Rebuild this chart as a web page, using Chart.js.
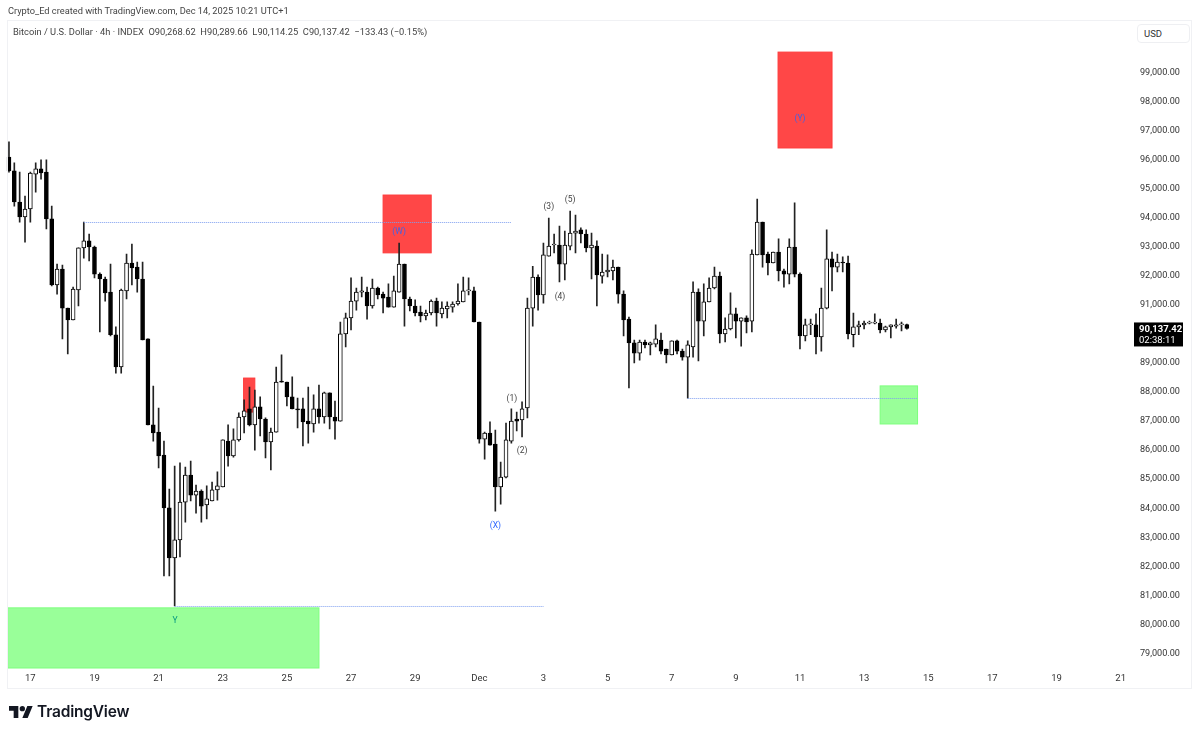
<!DOCTYPE html>
<html>
<head>
<meta charset="utf-8">
<title>BTCUSD 4h</title>
<script src="https://cdn.jsdelivr.net/npm/chart.js@4/dist/chart.umd.min.js"></script>
<style>
  html, body { margin: 0; padding: 0; background: #fff; overflow: hidden; }
  body { width: 1200px; height: 735px; position: relative; font-family: Roboto, sans-serif; color: #333; }
  #grafik { position: absolute; left: 0; top: 0; }
  #cerceve { position: absolute; left: 7px; top: 20px; width: 1185px; height: 669px; border: 1px solid #f0f1f4; box-sizing: border-box; pointer-events: none; }
  #baslik { position: absolute; left: 8px; top: 4px; font-size: 9.25px; line-height: 13px; color: #444; white-space: nowrap; }
  #lejant { position: absolute; left: 13px; top: 25px; font-size: 9.3px; line-height: 13px; color: #444; white-space: pre; }
  #usd { position: absolute; left: 1137px; top: 24px; width: 53px; height: 19px; border: 1px solid #eeeff2; border-radius: 4px; box-sizing: border-box; font-size: 9.5px; line-height: 18px; padding-left: 6px; color: #333; background: #fff; }
  #logo { position: absolute; left: 9px; top: 703px; display: flex; align-items: center; gap: 4px; }
  #logo span { font-family: Inter, sans-serif; font-weight: 600; font-size: 15.5px; color: #131722; letter-spacing: -0.2px; line-height: 18px; }
</style>
</head>
<body>
<canvas id="grafik" width="1200" height="735"></canvas>
<div id="cerceve"></div>
<div id="baslik">Crypto_Ed created with TradingView.com, Dec 14, 2025 10:21 UTC+1</div>
<div id="lejant">Bitcoin / U.S. Dollar · 4h · INDEX  O90,268.62  H90,289.66  L90,114.25  C90,137.42  −133.43 (−0.15%)</div>
<div id="usd">USD</div>
<div id="logo">
  <svg width="24" height="14" viewBox="0 3 36 20"><path fill="#131722" d="M14 22H7V11H0V4h14v18zM28 22h-8l7.5-18h8L28 22z"/><circle fill="#131722" cx="20" cy="8" r="4"/></svg>
  <span>TradingView</span>
</div>

<script>
// fiyatlar bin USD cinsinden (4 saatlik mumlar)
const opens = [
  96.04,95.56,94.49,93.98,94.25,95.45,95.63,95.52,93.91,91.64,
  92.18,90.84,90.43,91.46,92.91,93.15,92.94,92.01,91.84,91.39,
  89.92,88.81,91.43,92.39,92.25,91.84,89.78,86.82,86.57,85.78,
  83.96,82.24,82.86,84.16,85.09,84.40,84.54,84.06,84.20,84.58,
  84.68,86.26,85.75,86.30,87.09,87.37,86.82,87.44,87.02,86.23,
  86.57,88.33,88.29,87.78,87.37,87.37,86.95,86.85,87.37,87.09,
  87.92,87.09,86.95,89.95,90.50,91.08,91.39,91.39,90.91,91.53,
  91.32,91.22,90.87,91.39,92.35,91.15,90.91,90.70,90.57,90.67,
  91.08,90.64,90.81,90.87,90.98,91.05,91.43,91.43,90.36,86.33,
  86.54,86.16,84.68,85.02,86.26,87.02,86.99,87.40,90.84,91.91,
  91.29,92.63,93.01,93.01,92.35,92.97,93.42,93.53,93.39,92.91,
  92.97,91.94,92.08,92.12,92.25,91.32,90.46,89.64,89.29,89.67,
  89.57,89.60,89.74,89.43,89.23,89.71,89.36,89.15,89.50,91.39,
  90.39,91.05,91.53,91.94,89.95,90.12,90.64,90.39,90.50,90.39,
  92.67,93.80,92.70,92.39,92.77,92.12,92.01,92.94,92.01,89.88,
  90.26,90.26,89.85,90.84,92.53,92.25,92.42,92.39,89.92,90.19,
  90.26,90.32,90.32,90.32,90.09,90.19,90.22,90.26,90.27
];
const highs = [
  96.56,95.84,95.52,94.69,95.52,95.84,95.94,95.94,94.35,92.35,
  92.32,90.84,91.56,92.91,93.80,93.39,92.97,92.05,91.91,92.35,
  90.19,91.49,92.70,93.04,92.42,92.42,89.78,88.15,87.40,86.26,
  84.61,85.40,85.51,85.37,85.57,84.75,84.58,84.72,84.85,85.20,
  86.30,86.82,86.68,87.23,87.68,88.12,88.02,87.78,87.06,86.71,
  88.81,89.23,88.29,88.47,87.74,87.74,88.12,87.85,88.19,87.95,
  87.92,87.64,90.36,90.67,91.88,91.53,91.91,91.56,91.84,91.56,
  91.39,91.67,91.94,93.08,92.35,91.22,91.12,90.91,90.77,91.12,
  91.18,91.05,91.05,91.05,91.67,91.91,91.88,91.56,90.36,86.57,
  86.92,86.64,85.54,86.88,87.37,87.26,87.61,91.18,92.28,91.98,
  93.08,93.94,93.39,93.66,93.49,94.18,94.04,93.60,93.53,93.42,
  93.15,92.70,92.67,92.49,92.25,91.43,90.53,89.74,89.74,89.74,
  89.67,90.26,89.98,89.43,89.71,89.74,89.43,89.71,91.74,91.50,
  91.67,91.88,92.25,92.08,90.50,91.36,90.84,90.50,90.57,92.84,
  94.59,93.80,92.77,92.77,93.22,92.18,93.22,94.46,92.05,90.46,
  90.46,90.64,91.53,93.53,92.77,92.70,92.60,92.63,90.67,90.39,
  90.39,90.39,90.64,90.46,90.22,90.26,90.46,90.36,90.29
];
const lows = [
  95.52,94.35,93.80,93.11,93.80,94.83,95.28,93.56,91.60,91.32,
  89.78,89.26,90.43,90.91,92.56,92.46,91.88,90.02,91.08,89.88,
  88.60,88.60,91.15,91.64,91.39,89.74,86.82,86.26,85.34,81.62,
  81.62,80.59,82.27,83.47,84.20,83.78,83.47,83.58,84.20,84.23,
  84.68,85.40,85.71,86.26,86.54,86.78,85.95,86.44,85.68,85.27,
  86.57,88.29,87.47,87.37,86.71,86.09,86.19,86.57,86.88,86.88,
  86.68,86.33,86.95,89.50,90.09,90.77,91.22,90.46,90.84,91.15,
  90.67,90.87,90.87,91.39,90.22,90.74,90.57,90.36,90.43,90.60,
  90.22,90.50,90.50,90.70,90.94,91.05,91.29,90.36,86.19,85.64,
  86.12,83.85,84.09,84.99,86.19,86.61,86.40,87.06,90.22,90.77,
  91.01,92.63,92.74,91.74,91.81,92.84,92.74,93.08,92.77,91.84,
  90.91,91.70,91.91,91.81,91.01,89.88,88.09,88.95,89.05,89.47,
  89.23,89.50,89.26,88.95,89.23,89.26,89.05,87.74,89.15,89.02,
  89.88,91.05,91.50,89.64,89.67,90.09,89.81,89.53,89.98,90.02,
  92.67,92.25,91.98,92.39,91.77,91.56,91.67,91.91,89.43,89.71,
  89.92,89.26,89.36,90.81,91.43,92.08,92.08,89.78,89.50,89.92,
  90.12,90.29,90.29,89.98,90.02,89.81,90.15,90.05,90.11
];
const closes = [
  95.56,94.49,93.98,94.25,95.49,95.63,95.49,93.91,91.64,92.18,
  90.84,90.43,91.49,92.91,93.15,92.94,92.01,91.84,91.36,89.92,
  88.81,91.46,92.39,92.22,91.84,89.74,86.82,86.54,85.75,83.96,
  82.24,82.86,84.16,85.09,84.40,84.54,84.02,84.27,84.58,84.72,
  86.30,85.75,86.30,87.09,87.30,86.82,87.44,87.02,86.23,86.57,
  88.29,88.29,87.78,87.37,87.33,86.92,86.85,87.37,87.09,87.92,
  87.09,86.95,89.95,90.50,91.08,91.39,91.43,90.91,91.53,91.29,
  91.18,90.87,91.43,92.35,91.15,90.91,90.67,90.57,90.67,91.08,
  90.67,90.84,90.91,90.98,91.08,91.43,91.43,90.36,86.33,86.54,
  86.12,84.68,85.02,86.30,86.95,86.95,87.37,90.84,91.91,91.29,
  92.67,92.97,93.01,92.35,93.01,93.42,93.49,93.39,92.91,93.01,
  91.98,92.08,92.15,92.25,91.32,90.43,89.64,89.29,89.67,89.57,
  89.64,89.78,89.36,89.23,89.71,89.36,89.15,89.57,91.39,90.39,
  91.05,91.53,91.94,89.95,90.12,90.64,90.39,90.50,90.36,92.70,
  93.80,92.67,92.39,92.77,92.12,92.01,92.94,92.01,89.88,90.26,
  90.26,89.85,90.84,92.53,92.25,92.42,92.39,89.95,90.19,90.26,
  90.32,90.32,90.36,90.09,90.19,90.26,90.26,90.26,90.14
];

// eksen etiketleri
const dateTicks = ["17","19","21","23","25","27","29","Dec","3","5","7","9","11","13","15","17","19","21"];
const priceTicks = [79,80,81,82,83,84,85,86,87,88,89,90,91,92,93,94,95,96,97,98,99];
const barCount = 211;        // sağda boş kalan gelecek mumlar dahil
const firstTickBar = 4;
const barsPerTick = 12;

// son fiyat etiketi
const lastPrice = 90.13742;
const countdown = "02:38:11";

// kutular: [ilk mum, son mum, üst fiyat, alt fiyat]
const redZones = [[143.9,154,99.65,96.35],[70,79,94.73,92.74],[43.9,46,88.43,87.26]];
const greenZones = [[-0.25,58,80.52,78.45],[163,170,88.16,86.85]];
// noktalı çizgiler: [ilk mum, son mum, fiyat]
const dottedLines = [[14,93.9,93.80],[31,100,80.59],[127,170,87.74]];
// dalga etiketleri: [yazı, mum, fiyat, renk]
const waveLabels = [
  ["(1)",94.1,87.78,"#444"],["(2)",96,85.98,"#444"],["(3)",101,94.39,"#444"],
  ["(4)",103.1,91.29,"#444"],["(5)",105,94.63,"#444"],["(X)",91,83.41,"#2962ff"],
  ["Y",31.06,80.14,"#089981"],["(W)",73,93.53,"#3f63e8"],["(Y)",148,97.42,"#3f63e8"]
];

const etiketler = Array.from({ length: barCount }, (_, i) => {
  const k = (i - firstTickBar) / barsPerTick;
  return Number.isInteger(k) && dateTicks[k] ? dateTicks[k] : "";
});

const fontAd = "Roboto, sans-serif";

// kutu, çizgi ve etiketler Chart.js ölçekleri üzerinden çiziliyor
const cizimler = {
  id: "cizimler",
  beforeDatasetsDraw(chart) {
    const { ctx, scales: { x, y } } = chart;
    const kutu = (z, dolgu, kenar) => {
      const x0 = x.getPixelForValue(z[0]), x1 = x.getPixelForValue(z[1]);
      const y0 = y.getPixelForValue(z[2]), y1 = y.getPixelForValue(z[3]);
      ctx.fillStyle = dolgu;
      ctx.fillRect(x0, y0, x1 - x0, y1 - y0);
      ctx.strokeStyle = kenar;
      ctx.lineWidth = 1;
      ctx.strokeRect(x0, y0, x1 - x0, y1 - y0);
    };
    ctx.save();
    redZones.forEach(z => kutu(z, "#ff4747", "#ff3a3a"));
    greenZones.forEach(z => kutu(z, "#99ff99", "#7dff7d"));
    ctx.restore();
  },
  afterDatasetsDraw(chart) {
    const { ctx, scales: { x, y } } = chart;
    ctx.save();
    ctx.strokeStyle = "#7f9ff0";
    ctx.lineWidth = 1;
    ctx.setLineDash([1, 1]);
    dottedLines.forEach(l => {
      const py = Math.round(y.getPixelForValue(l[2])) + 0.5;
      ctx.beginPath();
      ctx.moveTo(x.getPixelForValue(l[0]), py);
      ctx.lineTo(x.getPixelForValue(l[1]), py);
      ctx.stroke();
    });
    ctx.setLineDash([]);
    ctx.font = "8.5px " + fontAd;
    ctx.textAlign = "center";
    ctx.textBaseline = "middle";
    waveLabels.forEach(l => {
      ctx.fillStyle = l[3];
      ctx.fillText(l[0], x.getPixelForValue(l[1]), y.getPixelForValue(l[2]) + 1.5);
    });
    // son fiyat etiketi
    const py = y.getPixelForValue(lastPrice);
    ctx.fillStyle = "#000";
    ctx.fillRect(1134, py - 6, 49, 24);
    ctx.fillStyle = "#fff";
    ctx.textAlign = "left";
    ctx.font = "bold 9.5px " + fontAd;
    ctx.fillText((lastPrice * 1000).toLocaleString("en-US", { minimumFractionDigits: 2, maximumFractionDigits: 2 }), 1139, py + 1);
    ctx.font = "9.5px " + fontAd;
    ctx.fillText(countdown, 1139, py + 12);
    ctx.restore();
  }
};

new Chart(document.getElementById("grafik"), {
  type: "bar",
  data: {
    labels: etiketler,
    datasets: [
      {
        label: "gövde",
        order: 1,
        data: opens.map((o, i) => [Math.min(o, closes[i]), Math.max(o, closes[i])]),
        backgroundColor: opens.map((o, i) => closes[i] >= o ? "#fff" : "#000"),
        borderColor: "#000",
        borderWidth: 1,
        borderSkipped: false,
        barThickness: 4,
        minBarLength: 1
      },
      {
        label: "fitil",
        order: 2,
        data: lows.map((l, i) => [l, highs[i]]),
        backgroundColor: "#222",
        borderWidth: 0,
        barThickness: 1
      }
    ]
  },
  options: {
    responsive: false,
    animation: false,
    events: [],
    datasets: { bar: { grouped: false } },
    layout: { padding: { left: 6.3, top: 20, right: 8, bottom: 46 } },
    plugins: { legend: { display: false }, tooltip: { enabled: false } },
    scales: {
      x: {
        offset: true,
        grid: { display: false, drawTicks: false },
        border: { display: false },
        afterFit(s) { s.height = 21; },
        ticks: {
          autoSkip: false,
          maxRotation: 0,
          padding: 5,
          color: "#333",
          font: { family: fontAd, size: 9.5 }
        }
      },
      y: {
        position: "right",
        min: 78.45,
        max: 100.755,
        grid: { display: false, drawTicks: false },
        border: { display: false },
        afterFit(s) { s.width = 58; },
        afterBuildTicks(s) { s.ticks = priceTicks.map(v => ({ value: v })); },
        ticks: {
          autoSkip: false,
          padding: 6,
          labelOffset: 1.5,
          color: "#333",
          font: { family: fontAd, size: 9.1 },
          callback: v => (v * 1000).toLocaleString("en-US", { minimumFractionDigits: 2 })
        }
      }
    }
  },
  plugins: [cizimler]
});
</script>
</body>
</html>
